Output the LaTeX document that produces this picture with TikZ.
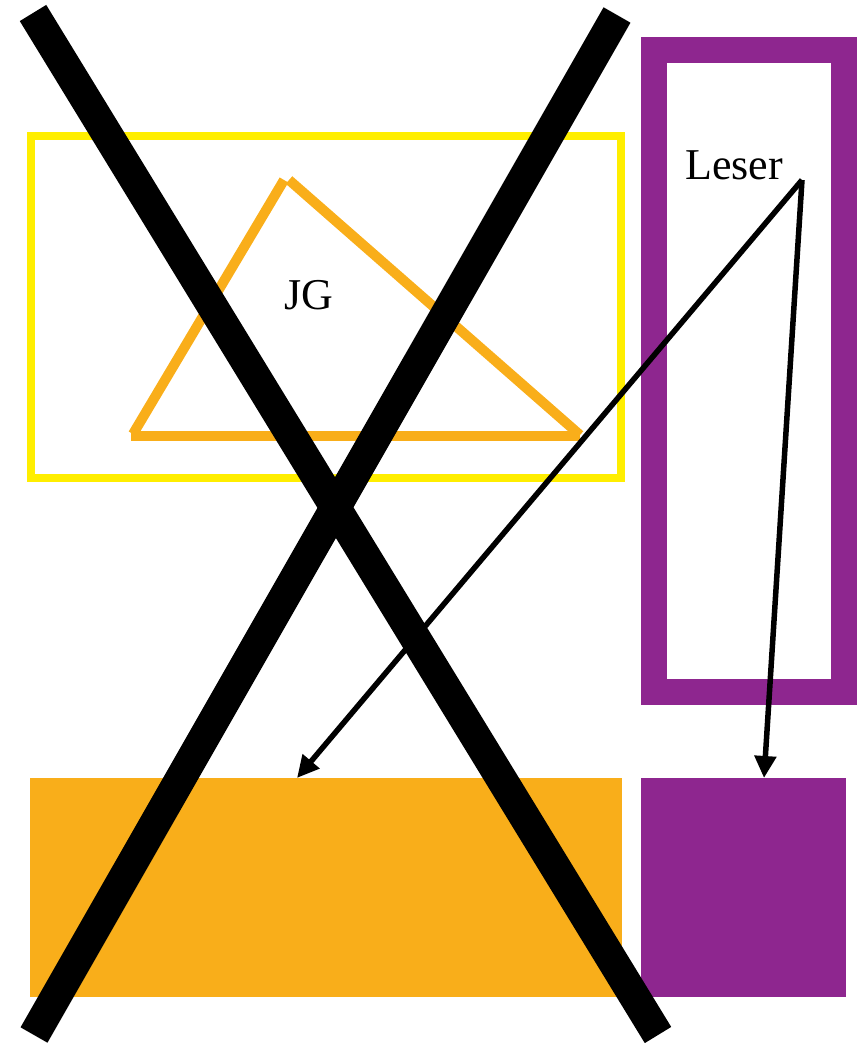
\documentclass[tikz,border=0pt]{standalone}
\usepackage{fontspec}
\setmainfont{Liberation Serif}
\usetikzlibrary{arrows.meta}
\definecolor{cyellow}{HTML}{FFEE00}
\definecolor{corange}{HTML}{F9AE1A}
\definecolor{cpurple}{HTML}{8E268F}
\begin{document}
\begin{tikzpicture}[x=1pt,y=-1pt,
  lbl/.style={font=\fontsize{44}{50}\selectfont, inner sep=0pt, text=black},
  conn/.style={draw=black, line width=5.5pt, -{Triangle[length=22pt,width=21pt]}},
  cross/.style={draw=black, line width=31pt},
  tri/.style={draw=corange, line width=10pt}]
\useasboundingbox (0,0) rectangle (857,1043);
% yellow frame
\draw[cyellow, line width=8pt] (31,136) rectangle (621,478);
% orange triangle (three separate strokes)
\coordinate (t1) at (133,434);
\coordinate (t2) at (284,180);
\coordinate (t3) at (289,180);
\coordinate (t4) at (580,435);
\coordinate (t5) at (131,436);
\draw[tri] (t1) -- (t2);
\draw[tri] (t3) -- (t4);
\draw[tri] (t4 |- t5) -- (t5);
\node[lbl] (jg) at (309,295) {JG};
% purple frame
\draw[cpurple, line width=26pt] (654,50) rectangle (844,692);
\node[lbl] (leser) at (734,165) {Leser};
% bottom boxes
\fill[corange] (30,778) rectangle (622,997);
\fill[cpurple] (641,778) rectangle (846,997);
\coordinate (ob) at (297,778);
\coordinate (pb) at (764,778);
\coordinate (src) at (802,180);
% connectors
\draw[conn] (src) -- (ob);
\draw[conn] (src) -- (pb);
% cross
\coordinate (a1) at (33,13);
\coordinate (a2) at (658,1035);
\coordinate (b1) at (617,15);
\coordinate (b2) at (34,1035);
\draw[cross] (a1) -- (a2);
\draw[cross] (b1) -- (b2);
\end{tikzpicture}
\end{document}
